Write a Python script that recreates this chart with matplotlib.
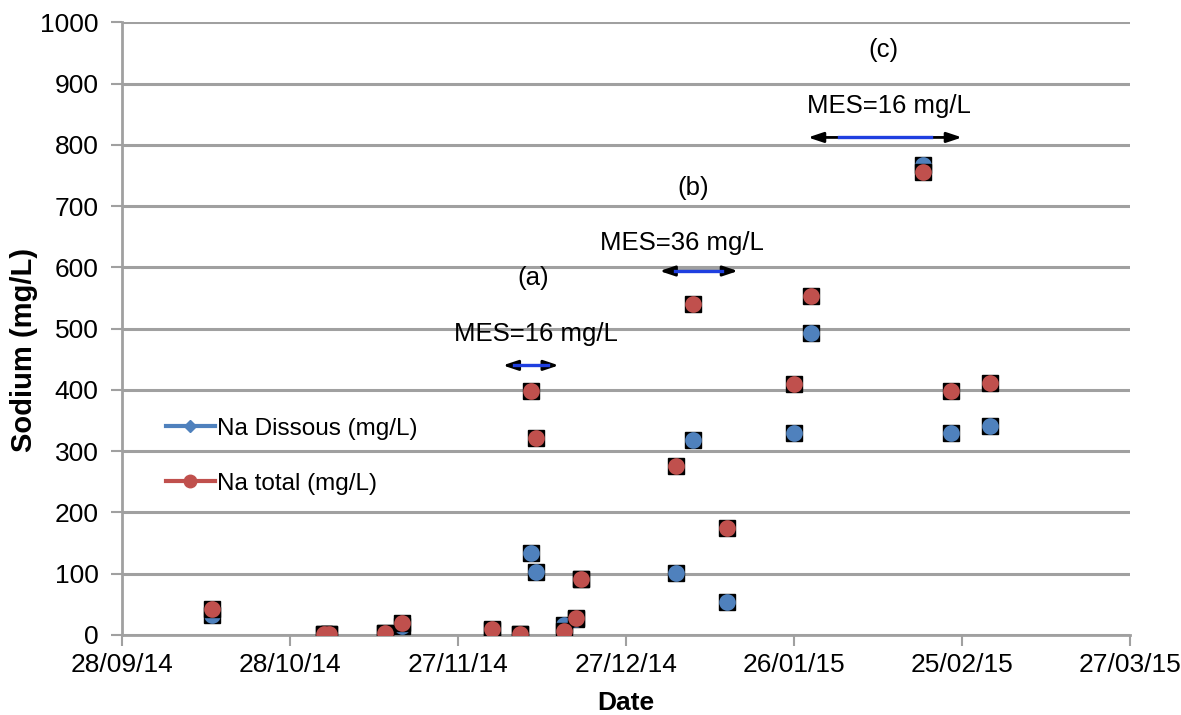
import numpy as np
import pandas as pd
import matplotlib
matplotlib.use("Agg")
import matplotlib.pyplot as plt
import matplotlib.dates as mdates
from matplotlib.lines import Line2D

plt.rcParams['font.family'] = ['Liberation Sans', 'DejaVu Sans']

# donnees
dates = pd.to_datetime([
    "2014-10-14", "2014-11-03", "2014-11-04", "2014-11-14", "2014-11-17",
    "2014-12-03", "2014-12-08", "2014-12-10", "2014-12-11", "2014-12-16",
    "2014-12-18", "2014-12-19", "2015-01-05", "2015-01-08", "2015-01-14",
    "2015-01-26", "2015-01-29", "2015-02-18", "2015-02-23", "2015-03-02"])
na_dissous = [33, 1, 1, 3, 15, 8, 2, 134, 103, 16, 26, 92, 101, 318, 54, 330, 493, 767, 330, 341]
na_total = [42, 1, 1, 4, 19, 9, 2, 398, 322, 7, 28, 92, 276, 540, 175, 409, 554, 755, 398, 411]

tick_dates = pd.to_datetime(["2014-09-28", "2014-10-28", "2014-11-27", "2014-12-27",
                             "2015-01-26", "2015-02-25", "2015-03-27"])

# annotations: lettre, texte MES, fleche
annot_lettres = ["(a)", "(b)", "(c)"]
annot_mes = ["MES=16 mg/L", "MES=36 mg/L", "MES=16 mg/L"]
lettre_x = pd.to_datetime(["2014-12-10 12:00", "2015-01-08 00:00", "2015-02-11 00:00"])
lettre_y = [582, 730, 955]
mes_x = pd.to_datetime(["2014-12-11 00:00", "2015-01-06 00:00", "2015-02-12 00:00"])
mes_y = [492, 640, 864]
fleche_debut = pd.to_datetime(["2014-12-05 00:00", "2015-01-02 00:00", "2015-01-28 12:00"])
fleche_fin = pd.to_datetime(["2014-12-15 00:00", "2015-01-16 00:00", "2015-02-25 00:00"])
fleche_y = [440, 594, 812]

bleu = '#4F81BD'
rouge = '#C0504D'
gris = '#A0A0A0'

fig = plt.figure(figsize=(11.81, 7.15), dpi=100)
ax = fig.add_axes([0.1033, 0.1119, 0.8535, 0.857])

ax.set_ylim(0, 1000)
ax.set_xlim(tick_dates[0], tick_dates[-1])
ax.set_yticks(np.arange(0, 1001, 100))
ax.set_xticks(tick_dates)
ax.xaxis.set_major_formatter(mdates.DateFormatter('%d/%m/%y'))
ax.grid(axis='y', color=gris, linewidth=2.2)
ax.set_axisbelow(True)
for s in ['top', 'right']:
    ax.spines[s].set_visible(False)
for s in ['left', 'bottom']:
    ax.spines[s].set_color(gris)
    ax.spines[s].set_linewidth(2)
ax.tick_params(axis='both', colors=gris, labelcolor='black', labelsize=19, width=1.5, length=8)
ax.tick_params(axis='x', pad=5)
ax.tick_params(axis='y', pad=9)

# points: carre noir + cercle colore
ax.plot(dates, na_dissous, 's', color='black', markersize=12, zorder=3)
ax.plot(dates, na_dissous, 'o', color=bleu, markersize=12, markeredgewidth=0, zorder=4)
ax.plot(dates, na_total, 's', color='black', markersize=12, zorder=5)
ax.plot(dates, na_total, 'o', color=rouge, markersize=12, markeredgewidth=0, zorder=6)

for i in range(3):
    ax.text(lettre_x[i], lettre_y[i], annot_lettres[i], ha='center', va='center', fontsize=18.5)
    ax.text(mes_x[i], mes_y[i], annot_mes[i], ha='center', va='center', fontsize=18.5)
    ax.annotate('', xy=(fleche_fin[i], fleche_y[i]), xytext=(fleche_debut[i], fleche_y[i]),
                arrowprops=dict(arrowstyle='<|-|>,head_length=0.9,head_width=0.3',
                                color='black', lw=2, shrinkA=0, shrinkB=0), zorder=7)
    d0 = fleche_debut[i] + (fleche_fin[i] - fleche_debut[i]) * 0.2
    d1 = fleche_fin[i] - (fleche_fin[i] - fleche_debut[i]) * 0.2
    ax.plot([d0, d1], [fleche_y[i], fleche_y[i]], color='#1F3FE0', lw=2.4, zorder=8)

ax.set_ylabel('Sodium (mg/L)', fontsize=21, fontweight='bold')
ax.yaxis.set_label_coords(-0.083, 0.465)
ax.set_xlabel('Date', fontsize=19, fontweight='bold', labelpad=10)

handles = [Line2D([], [], color=bleu, lw=3, marker='D', markersize=6),
           Line2D([], [], color=rouge, lw=3, marker='o', markersize=9)]
leg = ax.legend(handles, ['Na Dissous (mg/L)', 'Na total (mg/L)'], loc='upper left',
                bbox_to_anchor=(0.022, 0.39), frameon=False, fontsize=17.5,
                handlelength=2.0, handletextpad=0.1, labelspacing=1.35)

fig.savefig('out.png', dpi=100)
